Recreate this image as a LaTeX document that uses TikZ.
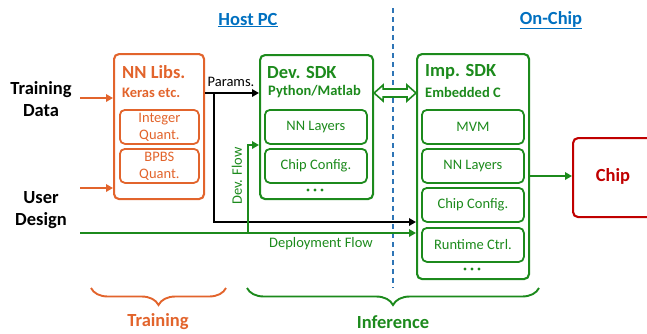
\documentclass[tikz,border=0pt]{standalone}
\usepackage{fontspec}
\setmainfont{Carlito}
\usetikzlibrary{arrows.meta,decorations.pathreplacing,calc}
\definecolor{orng}{RGB}{226,100,44}
\definecolor{grn}{RGB}{28,138,28}
\definecolor{hblue}{RGB}{0,112,192}
\definecolor{dblue}{RGB}{46,117,182}
\definecolor{chipred}{RGB}{192,0,0}
\tikzset{
  outerbox/.style={draw, line width=2.1pt, rounded corners=5pt, anchor=north west, inner sep=0pt},
  innerbox/.style={draw, line width=1.8pt, rounded corners=5pt, anchor=north west, inner sep=0pt,
    align=center, font=\fontsize{14.5}{17}\selectfont},
  bigtxt/.style={font=\bfseries\fontsize{18.5}{22}\selectfont, inner sep=0pt},
  subtxt/.style={font=\bfseries\fontsize{14.5}{17}\selectfont, inner sep=0pt, anchor=west},
  hdtxt/.style={font=\bfseries\fontsize{18.5}{22}\selectfont, inner sep=0pt, anchor=west},
  plain/.style={font=\fontsize{14.5}{17}\selectfont, inner sep=0pt},
  flow/.style={line width=2.1pt, -{Triangle[length=7pt,width=7.5pt]}},
  brc/.style={line width=1.9pt, decorate, decoration={brace, mirror, amplitude=17pt}},
}
\begin{document}
\begin{tikzpicture}[x=1pt,y=-1pt]
\useasboundingbox (0,0) rectangle (647,333);

% row levels used by the connectors
\coordinate (rowTD) at (0,98);
\coordinate (rowUD) at (0,188);
\coordinate (rowP) at (0,93);
\coordinate (rowDev) at (0,145);
\coordinate (rowBlk) at (0,222);
\coordinate (rowDep) at (0,233);
\coordinate (rowChip) at (0,176);

% section headings
\node[bigtxt, text=hblue] (hostpc) at (248,20) {\underline{Host PC}};
\node[bigtxt, text=hblue] (onchip) at (551,20) {\underline{On-Chip}};

% boundary between host and chip
\draw[dblue, line width=1.7pt, dash pattern=on 5pt off 4pt] (393,8) -- (393,288);

% inputs
\node[bigtxt, align=center] (td) at (41,99) {Training\\Data};
\node[bigtxt, align=center] (ud) at (41,210) {User\\Design};
\coordinate (tdout) at (80,98);
\coordinate (udout) at (80,188);
\coordinate (depstart) at (80,233);

% NN libraries
\node[outerbox, draw=orng, minimum width=90pt, minimum height=145pt] (nn) at (113,53) {};
\node[hdtxt, text=orng] (nnt) at (122,72) {NN Libs.};
\node[subtxt, text=orng] (nns) at (122,93) {Keras etc.};
\node[innerbox, draw=orng, text=orng, minimum width=79pt, minimum height=34pt] (iq) at (119,109) {Integer\\Quant.};
\node[innerbox, draw=orng, text=orng, minimum width=79pt, minimum height=34pt] (bq) at (119,148) {BPBS\\Quant.};

% development SDK
\node[outerbox, draw=grn, minimum width=113pt, minimum height=144pt] (dev) at (259,54) {};
\node[hdtxt, text=grn] (devt) at (267,72) {Dev. SDK};
\node[subtxt, text=grn] (devs) at (268,92) {Python/Matlab};
\node[innerbox, draw=grn, text=grn, minimum width=102pt, minimum height=34pt] (dnn) at (264,109) {NN Layers};
\node[innerbox, draw=grn, text=grn, minimum width=102pt, minimum height=34pt] (dcc) at (264,148) {Chip Config.};
\foreach \dx in {-7,0,7} \fill[grn] (315+\dx,190) circle (1.7pt);

% implementation SDK
\node[outerbox, draw=grn, minimum width=112pt, minimum height=225pt] (imp) at (416,53) {};
\node[hdtxt, text=grn] (impt) at (425,72) {Imp. SDK};
\node[subtxt, text=grn] (imps) at (425,92) {Embedded C};
\node[innerbox, draw=grn, text=grn, minimum width=102pt, minimum height=34pt] (mvm) at (421,109) {MVM};
\node[innerbox, draw=grn, text=grn, minimum width=102pt, minimum height=34pt] (inn) at (421,148) {NN Layers};
\node[innerbox, draw=grn, text=grn, minimum width=102pt, minimum height=34pt] (icc) at (421,187) {Chip Config.};
\node[innerbox, draw=grn, text=grn, minimum width=102pt, minimum height=34pt] (irc) at (421,227) {Runtime Ctrl.};
\foreach \dx in {-7,0,7} \fill[grn] (472+\dx,269) circle (1.7pt);

% chip
\node[outerbox, draw=chipred, minimum width=110pt, minimum height=79pt] (chip) at (572,137) {};
\node[bigtxt, text=chipred] (chipt) at (613,176) {Chip};

% inputs into the libraries
\draw[orng, flow] (tdout) -- (nn.west |- rowTD);
\draw[orng, flow] (udout) -- (nn.west |- rowUD);

% parameters out of the libraries
\coordinate (branch) at (214,93);
\draw[black, flow] (nn.east |- rowP) -- (dev.west |- rowP);
\draw[black, flow] (branch) -- (branch |- rowBlk) -- (imp.west |- rowBlk);
\node[plain, anchor=south] (params) at (231,87) {Params.};

% deployment and development flows
\coordinate (devsplit) at (248,233);
\draw[grn, flow] (depstart) -- (imp.west |- rowDep);
\draw[grn, flow] (devsplit) -- (devsplit |- rowDev) -- (dev.west |- rowDev);
\node[plain, text=grn, rotate=90] (devflow) at (237,176) {Dev. Flow};
\node[plain, text=grn] (depflow) at (321,244) {Deployment Flow};

% exchange between the two SDKs
\draw[grn, line width=1.6pt, fill=white, line join=miter]
  (dev.east |- rowP) -- ++(9,-8) -- ++(0,4) -- ($(imp.west |- rowP)+(-9,-4)$) -- ++(0,-4)
  -- (imp.west |- rowP) -- ++(-9,8) -- ++(0,-4) -- ($(dev.east |- rowP)+(9,4)$) -- ++(0,4) -- cycle;

% implementation SDK drives the chip
\draw[grn, flow] (imp.east |- rowChip) -- (chip.west |- rowChip);

% phase braces
\draw[orng, brc] (91,288) -- (226,288);
\draw[grn, brc] (247,288) -- (539,288);
\node[bigtxt, text=orng] (train) at (158,322) {Training};
\node[bigtxt, text=grn] (infer) at (393,322) {Inference};
\end{tikzpicture}
\end{document}
